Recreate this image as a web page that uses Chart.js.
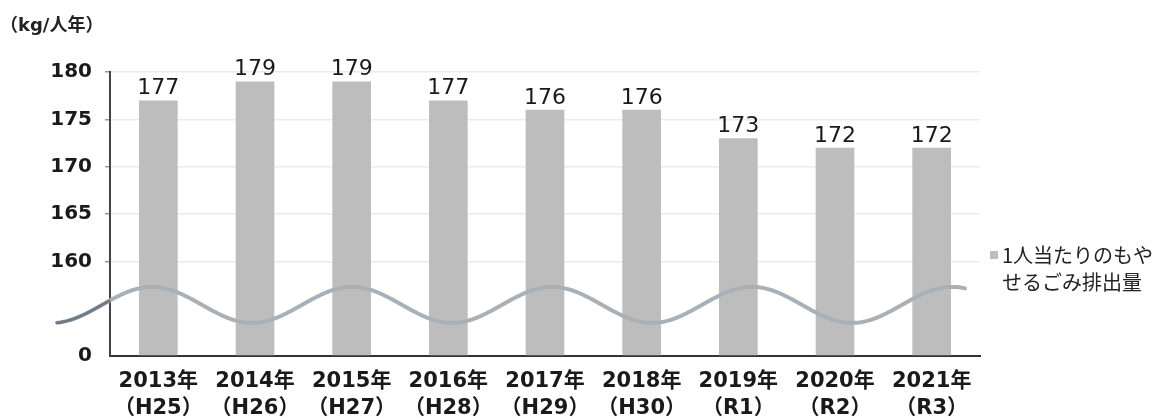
<!DOCTYPE html>
<html lang="ja">
<head>
<meta charset="utf-8">
<script src="https://cdn.jsdelivr.net/npm/chart.js@4/dist/chart.umd.min.js"></script>
<style>
  html, body { margin: 0; padding: 0; background: #fff; }
  #wrap { width: 1159px; height: 420px; position: relative; }
</style>
</head>
<body>
<div id="wrap"><canvas id="gomiChart" width="1159" height="420"></canvas></div>
<script>
// --- datos ---
const years = ['2013年', '2014年', '2015年', '2016年', '2017年', '2018年', '2019年', '2020年', '2021年'];
const eras = ['（H25）', '（H26）', '（H27）', '（H28）', '（H29）', '（H30）', '（R1）', '（R2）', '（R3）'];
const perPerson = [177, 179, 179, 177, 176, 176, 173, 172, 172];
const legendLines = ['1人当たりのもや', 'せるごみ排出量'];
const unitLabel = '（kg/人年）';

// el eje empieza en 150 pero se rotula como 0 (eje cortado)
const AXIS_BASE = 150;

const FONT = '"DejaVu Sans", "Noto Sans CJK JP", sans-serif';
const JP_FONT = '"Noto Sans CJK JP", sans-serif';
const BAR_COLOR = '#bdbdbd';

// etiquetas de valor encima de cada barra
const valueLabels = {
    id: 'valueLabels',
    afterDatasetsDraw(chart) {
        const ctx = chart.ctx;
        const meta = chart.getDatasetMeta(0);
        ctx.save();
        ctx.font = '400 22px ' + FONT;
        ctx.fillStyle = '#1a1a1a';
        ctx.textAlign = 'center';
        ctx.textBaseline = 'alphabetic';
        meta.data.forEach((bar, i) => {
            ctx.fillText(String(perPerson[i]), bar.x, bar.y - 6);
        });
        ctx.restore();
    }
};

// línea ondulada que marca el corte del eje
const axisBreak = {
    id: 'axisBreak',
    afterDatasetsDraw(chart) {
        const ctx = chart.ctx;
        const y = chart.scales.y;
        const area = chart.chartArea;
        const mid = y.getPixelForValue(155.4);
        const amp = y.getPixelForValue(AXIS_BASE) - y.getPixelForValue(AXIS_BASE + 1.9);
        const x0 = area.left - 53;
        const x1 = area.right - 14;
        const period = 200;
        const phaseX = area.left + 42; // primera cresta
        const waveY = (x) => mid - amp * Math.cos((x - phaseX) / period * 2 * Math.PI);
        ctx.save();
        ctx.lineWidth = 4;
        ctx.lineCap = 'round';
        ctx.strokeStyle = '#a9b0b7';
        ctx.beginPath();
        for (let x = x0; x <= x1; x += 2) {
            if (x === x0) ctx.moveTo(x, waveY(x)); else ctx.lineTo(x, waveY(x));
        }
        ctx.stroke();
        // tramo más oscuro fuera del eje
        ctx.strokeStyle = '#6f7a84';
        ctx.lineWidth = 3;
        ctx.beginPath();
        for (let x = x0; x <= area.left; x += 2) {
            if (x === x0) ctx.moveTo(x, waveY(x)); else ctx.lineTo(x, waveY(x));
        }
        ctx.stroke();
        ctx.restore();
    }
};

// unidad arriba a la izquierda y leyenda a la derecha
const extras = {
    id: 'extras',
    afterDraw(chart) {
        const ctx = chart.ctx;
        const area = chart.chartArea;
        ctx.save();
        ctx.font = '700 18px ' + FONT;
        ctx.fillStyle = '#222';
        ctx.textBaseline = 'middle';
        ctx.textAlign = 'left';
        ctx.fillText(unitLabel, 0, 26);

        const lx = area.right + 10;
        const ly = 255;
        ctx.fillStyle = BAR_COLOR;
        ctx.fillRect(lx, ly - 4, 8, 8);
        ctx.font = '400 20px ' + JP_FONT;
        ctx.fillStyle = '#222';
        legendLines.forEach((line, i) => {
            ctx.fillText(line, lx + 12, ly + i * 27);
        });
        ctx.restore();
    }
};

new Chart(document.getElementById('gomiChart'), {
    type: 'bar',
    data: {
        labels: years.map((y, i) => [y, eras[i]]),
        datasets: [{
            label: legendLines.join(''),
            data: perPerson,
            backgroundColor: BAR_COLOR,
            base: AXIS_BASE,
            categoryPercentage: 1,
            barPercentage: 0.4
        }]
    },
    options: {
        responsive: false,
        animation: false,
        layout: { padding: { top: 72, right: 179, left: 0, bottom: 0 } },
        plugins: {
            legend: { display: false },
            tooltip: { enabled: false }
        },
        scales: {
            x: {
                grid: { display: false, drawTicks: false },
                border: { color: '#333', width: 2 },
                ticks: {
                    color: '#1a1a1a',
                    font: { family: FONT, size: 21, weight: '700', lineHeight: 1.3 },
                    padding: 12,
                    maxRotation: 0,
                    autoSkip: false
                },
                afterFit(scale) { scale.height = 64; }
            },
            y: {
                min: AXIS_BASE,
                max: 180,
                grid: {
                    color: (c) => (c.tick && c.tick.value >= 160) ? '#ececec' : 'rgba(0,0,0,0)',
                    tickColor: (c) => (c.tick && c.tick.value >= 160) ? '#999' : 'rgba(0,0,0,0)',
                    tickLength: 5,
                    lineWidth: 1.5
                },
                border: { color: '#444', width: 2 },
                ticks: {
                    stepSize: 5,
                    color: '#1a1a1a',
                    padding: 13,
                    font: { family: FONT, size: 20, weight: '700' },
                    callback: (v) => v === AXIS_BASE ? '0' : (v === 155 ? '' : v)
                },
                afterFit(scale) { scale.width = 110; }
            }
        }
    },
    plugins: [valueLabels, axisBreak, extras]
});
</script>
</body>
</html>
